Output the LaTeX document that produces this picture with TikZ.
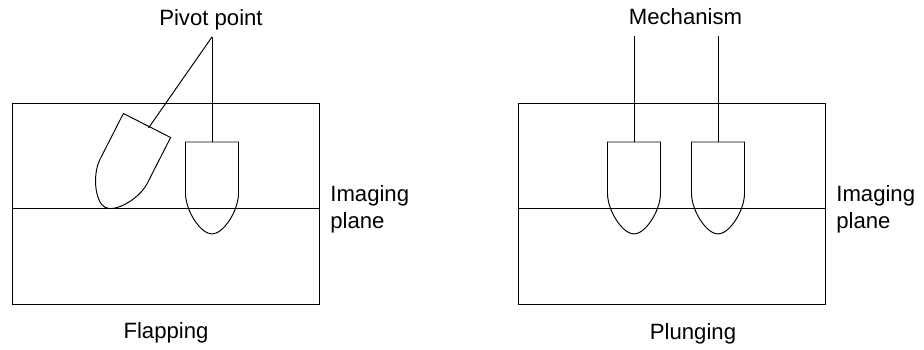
\documentclass[tikz,border=0pt]{standalone}
\usepackage{fontspec}
\setmainfont{Liberation Sans}
\usepackage{tikz}

\tikzset{
  thinline/.style={black, line width=0.55pt},
  caption/.style={inner sep=0pt, font=\fontsize{12.6}{15.2}\selectfont},
  pics/probe/.style={code={
    \draw [thinline] (-26.5,0) -- (26.5,0) -- (26.5,-52)
      .. controls (26,-70) and (11,-92) .. (0,-92)
      .. controls (-11,-92) and (-26,-70) .. (-26.5,-52) -- cycle;
  }}
}

\begin{document}
\begin{tikzpicture}[x=0.02cm, y=0.02cm]
\useasboundingbox (0,0) rectangle (924,-350);
% flapping
\draw [thinline] (12,-103) rectangle (319.5,-304);
\draw [thinline] (12,-208) -- (319.5,-208);
\coordinate (pivot) at (212,-37);
\coordinate (flaptop) at (147,-125.5);
\coordinate (fixtop) at (212,-142);
\pic [rotate=-27] at (flaptop) {probe};
\pic at (fixtop) {probe};
\draw [thinline] (pivot) -- (148.5,-128);
\draw [thinline] (pivot) -- (fixtop);
\node [caption] (pivotlabel) at (211,-20) {Pivot point};
\node [caption, align=left, anchor=west] (imgleft) at (330,-209) {Imaging\\plane};
\node [caption] (flapping) at (166,-333) {Flapping};
% plunging
\draw [thinline] (518.5,-103) rectangle (825.5,-304);
\draw [thinline] (518.5,-208) -- (825.5,-208);
\coordinate (mecha) at (634,-36);
\coordinate (mechb) at (718,-36);
\coordinate (plungea) at (634,-142);
\coordinate (plungeb) at (718,-142);
\pic at (plungea) {probe};
\pic at (plungeb) {probe};
\draw [thinline] (mecha) -- (plungea);
\draw [thinline] (mechb) -- (plungeb);
\node [caption] (mechlabel) at (685.5,-17) {Mechanism};
\node [caption, align=left, anchor=west] (imgright) at (836,-209) {Imaging\\plane};
\node [caption] (plunging) at (693,-334) {Plunging};
\end{tikzpicture}
\end{document}
